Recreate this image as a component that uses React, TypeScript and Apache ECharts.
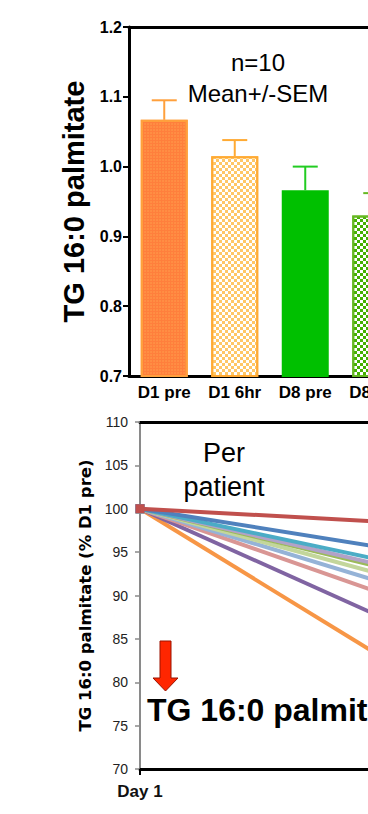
import React, { useEffect, useRef } from "react";
import * as echarts from "echarts";

// ---- Top chart data (bar + SEM) ----
const barCategories = ["D1 pre", "D1 6hr", "D8 pre", "D8 6hr"];
const barMeans = [1.067, 1.015, 0.966, 0.93];
const barUpper = [1.095, 1.038, 1.0, 0.962];

// ---- Bottom chart data (per patient, % of D1 pre) ----
const lineCategories = ["Day 1", "Day 8"];
const patientDay1 = [100, 100, 100, 100, 100, 100, 100, 100, 100, 100];
const patientDay8 = [97.9, 93.7, 91.6, 90.8, 90.4, 89.3, 88.0, 86.2, 82.3, 75.8];

const patientColors = [
  "#C0504D",
  "#4F81BD",
  "#4BACC6",
  "#B2A2C7",
  "#9BBB59",
  "#C3D69B",
  "#95B3D7",
  "#D99694",
  "#8064A2",
  "#F79646",
];
const patientSymbols = ["rect", "rect", "triangle", "rect", "triangle", "diamond", "rect", "rect", "diamond", "rect"];

const barFill = ["#ff7f3c", "#ffffff", "#00c000", "#ffffff"];
const barBorder = ["#ffa03c", "#ffaa33", "#00c000", "#66b822"];
const errColors = ["#ffa03c", "#ffaa33", "#22cc22", "#66b822"];

const ARIAL = "'Liberation Sans', Arial, Helvetica, sans-serif";
const NARROW = "'Liberation Sans Narrow', 'Arial Narrow', 'Liberation Sans', sans-serif";
const DEJAVU = "'DejaVu Sans', Verdana, sans-serif";

function barDecal(i: number): any {
  if (i === 0) {
    return {
      symbol: "circle",
      symbolSize: 0.7,
      dashArrayX: [2, 1],
      dashArrayY: [2, 1],
      color: "rgba(255,190,90,0.55)",
    };
  }
  if (i === 1) {
    return {
      symbol: "rect",
      symbolSize: 1,
      dashArrayX: [[3, 3], [0, 3, 3, 0]],
      dashArrayY: [3, 0],
      color: "#ffc766",
    };
  }
  if (i === 3) {
    return {
      symbol: "rect",
      symbolSize: 1,
      dashArrayX: [[3, 3], [0, 3, 3, 0]],
      dashArrayY: [3, 0],
      color: "#44b000",
    };
  }
  return undefined;
}

export default function App() {
  const ref = useRef<HTMLDivElement>(null);

  useEffect(() => {
    if (!ref.current) return;
    const chart = echarts.init(ref.current, undefined, { renderer: "svg" });

    const option: any = {
      animation: false,
      backgroundColor: "#ffffff",
      grid: [
        { left: 129, top: 27, width: 282, height: 349, outerBoundsMode: "none", containLabel: false },
        { left: 140, top: 422, width: 342, height: 347, outerBoundsMode: "none", containLabel: false },
      ],
      xAxis: [
        {
          type: "category",
          gridIndex: 0,
          data: barCategories,
          axisLine: { show: true, lineStyle: { color: "#000", width: 3 } },
          axisTick: { show: false },
          axisLabel: {
            color: "#000",
            fontSize: 17,
            fontWeight: "bold",
            fontFamily: ARIAL,
            margin: 8,
          },
          splitLine: { show: false },
        },
        {
          type: "category",
          gridIndex: 0,
          position: "top",
          data: barCategories,
          axisLine: { show: true, lineStyle: { color: "#000", width: 3 } },
          axisTick: { show: false },
          axisLabel: { show: false },
          splitLine: { show: false },
        },
        {
          type: "category",
          gridIndex: 1,
          data: lineCategories,
          boundaryGap: false,
          axisLine: { show: true, lineStyle: { color: "#000", width: 3 } },
          axisTick: { show: true, length: 6, lineStyle: { color: "#000", width: 2 } },
          axisLabel: {
            color: "#111",
            fontSize: 17,
            fontWeight: "bold",
            fontFamily: NARROW,
            margin: 14,
          },
          splitLine: { show: false },
        },
        {
          type: "category",
          gridIndex: 1,
          position: "top",
          data: lineCategories,
          boundaryGap: false,
          axisLine: { show: true, lineStyle: { color: "#000", width: 3 } },
          axisTick: { show: false },
          axisLabel: { show: false },
          splitLine: { show: false },
        },
      ],
      yAxis: [
        {
          type: "value",
          gridIndex: 0,
          min: 0.7,
          max: 1.2,
          interval: 0.1,
          axisLine: { show: true, lineStyle: { color: "#000", width: 3 } },
          axisTick: { show: true, length: 6, lineStyle: { color: "#000", width: 2 } },
          axisLabel: {
            color: "#000",
            fontSize: 16,
            fontWeight: "bold",
            fontFamily: ARIAL,
            margin: 7,
            formatter: (v: number) => v.toFixed(1),
          },
          splitLine: { show: false },
          name: "TG 16:0 palmitate",
          nameLocation: "middle",
          nameGap: 34,
          nameTextStyle: {
            color: "#000",
            fontSize: 29,
            fontWeight: "bold",
            fontFamily: ARIAL,
          },
        },
        {
          type: "value",
          gridIndex: 1,
          min: 70,
          max: 110,
          interval: 5,
          axisLine: { show: true, lineStyle: { color: "#8a8a8a", width: 2 } },
          axisTick: { show: true, length: 5, lineStyle: { color: "#8a8a8a", width: 1.5 } },
          axisLabel: {
            color: "#222",
            fontSize: 14,
            fontFamily: NARROW,
            margin: 12,
          },
          splitLine: { show: false },
          name: "TG 16:0 palmitate (% D1 pre)",
          nameLocation: "middle",
          nameGap: 36,
          nameTextStyle: {
            color: "#000",
            fontSize: 16.5,
            fontWeight: "bold",
            fontFamily: DEJAVU,
          },
        },
      ],
      series: [
        {
          type: "bar",
          xAxisIndex: 0,
          yAxisIndex: 0,
          barWidth: 47,
          clip: true,
          data: barMeans.map((v, i) => ({
            value: v,
            itemStyle: {
              color: barFill[i],
              borderColor: barBorder[i],
              borderWidth: 2,
              decal: barDecal(i),
            },
          })),
          z: 2,
        },
        {
          type: "custom",
          xAxisIndex: 0,
          yAxisIndex: 0,
          data: barMeans.map((m, i) => [i, m, barUpper[i]]),
          encode: { x: 0, y: [1, 2] },
          z: 3,
          renderItem: (params: any, api: any) => {
            const base = api.coord([api.value(0), api.value(1)]);
            const top = api.coord([api.value(0), api.value(2)]);
            const color = errColors[params.dataIndex];
            return {
              type: "group",
              children: [
                {
                  type: "line",
                  shape: { x1: base[0], y1: base[1], x2: top[0], y2: top[1] },
                  style: { stroke: color, lineWidth: 2 },
                },
                {
                  type: "line",
                  shape: { x1: top[0] - 12.5, y1: top[1], x2: top[0] + 12.5, y2: top[1] },
                  style: { stroke: color, lineWidth: 2 },
                },
              ],
            };
          },
        },
        ...patientDay8.map((v, i) => ({
          type: "line",
          xAxisIndex: 2,
          yAxisIndex: 1,
          data: [patientDay1[i], v],
          symbol: patientSymbols[i],
          symbolSize: 9,
          showSymbol: true,
          lineStyle: { color: patientColors[i], width: 4 },
          itemStyle: { color: patientColors[i] },
          z: 12 - i,
        })),
      ],
      graphic: [
        {
          type: "text",
          x: 258,
          y: 62,
          style: {
            text: "n=10",
            fontSize: 24,
            fontFamily: ARIAL,
            fill: "#000",
            textAlign: "center",
            textVerticalAlign: "middle",
          },
        },
        {
          type: "text",
          x: 258,
          y: 93,
          style: {
            text: "Mean+/-SEM",
            fontSize: 24,
            fontFamily: ARIAL,
            fill: "#000",
            textAlign: "center",
            textVerticalAlign: "middle",
          },
        },
        {
          type: "text",
          x: 224,
          y: 453,
          style: {
            text: "Per",
            fontSize: 27,
            fontFamily: ARIAL,
            fill: "#000",
            textAlign: "center",
            textVerticalAlign: "middle",
          },
        },
        {
          type: "text",
          x: 224,
          y: 487,
          style: {
            text: "patient",
            fontSize: 27,
            fontFamily: ARIAL,
            fill: "#000",
            textAlign: "center",
            textVerticalAlign: "middle",
          },
        },
        {
          type: "polygon",
          shape: {
            points: [
              [160, 641],
              [171, 641],
              [171, 678],
              [178, 678],
              [165.5, 691],
              [153, 678],
              [160, 678],
            ],
          },
          style: { fill: "#ff2600", stroke: "#9a1200", lineWidth: 1 },
          z: 20,
        },
        {
          type: "text",
          x: 147,
          y: 710,
          style: {
            text: "TG 16:0 palmitate",
            fontSize: 32,
            fontWeight: "bold",
            fontFamily: ARIAL,
            fill: "#000",
            textAlign: "left",
            textVerticalAlign: "middle",
          },
          z: 20,
        },
      ],
    };

    chart.setOption(option);
    return () => {
      chart.dispose();
    };
  }, []);

  return (
    <div
      style={{
        position: "fixed",
        left: 0,
        top: 0,
        width: 368,
        height: 814,
        overflow: "hidden",
        background: "#fff",
      }}
    >
      <div ref={ref} style={{ width: 368, height: 814 }} />
    </div>
  );
}
